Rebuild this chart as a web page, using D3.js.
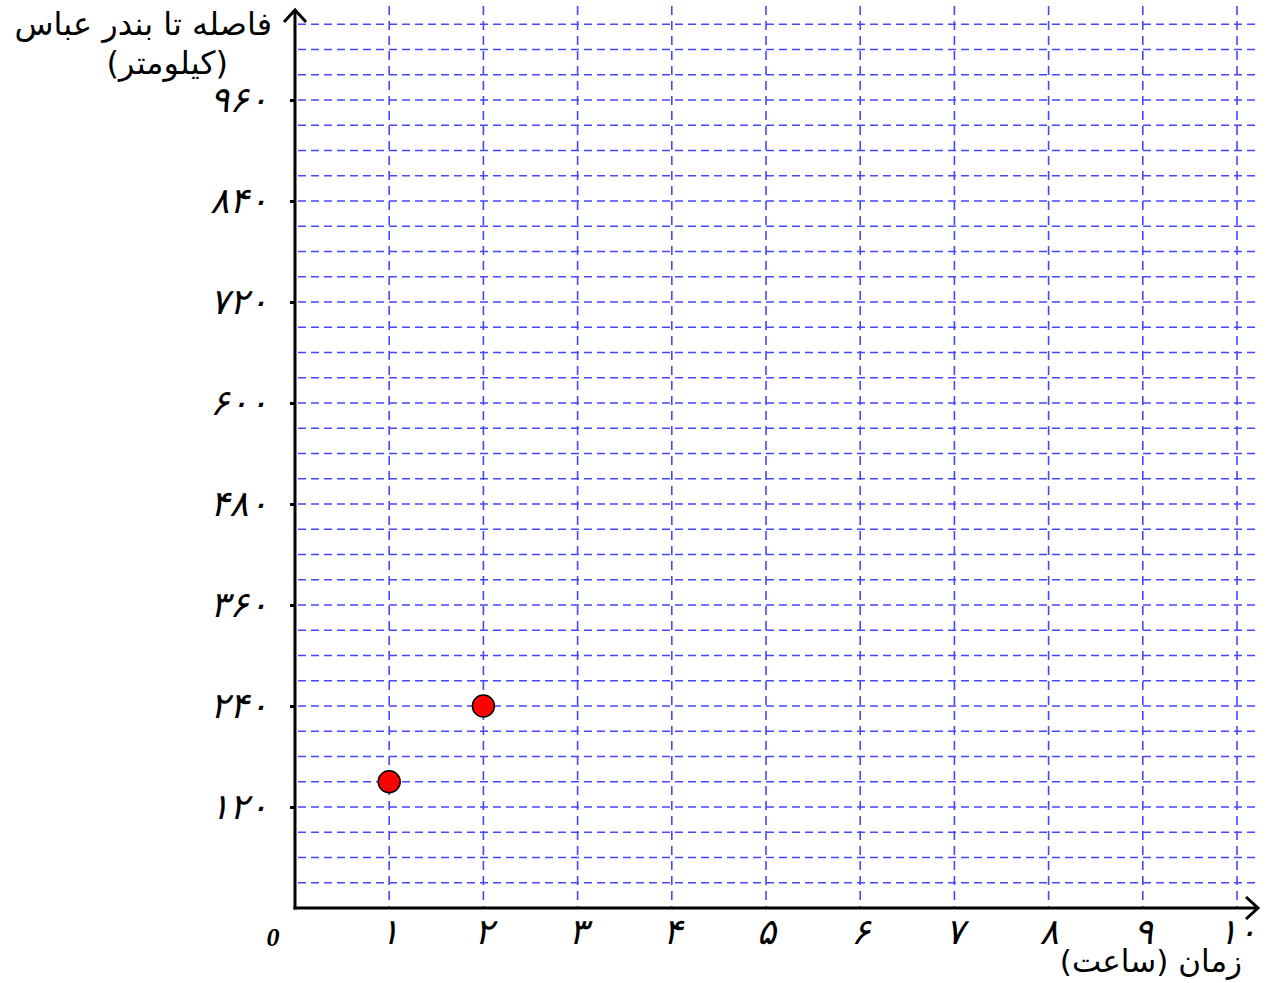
<!DOCTYPE html>
<html>
<head>
<meta charset="utf-8">
<script src="https://cdn.jsdelivr.net/npm/d3@7"></script>
<style>
  body { margin: 0; background: #fff; }
  svg { display: block; }
</style>
</head>
<body>
<div class="canvas"></div>
<script>
// data
const hours = [1, 2];
const distances = [150, 240];
const xTicks = [1, 2, 3, 4, 5, 6, 7, 8, 9, 10];
const yTicks = [120, 240, 360, 480, 600, 720, 840, 960];
const yTitle = ["فاصله تا بندر عباس", "(کیلومتر)"];
const xTitle = "زمان (ساعت)";

const width = 1275, height = 983;
const fa = n => String(n).replace(/\d/g, d => "۰۱۲۳۴۵۶۷۸۹"[d]);

const svg = d3.select(".canvas").append("svg")
    .attr("width", width)
    .attr("height", height);

// scales
const x = d3.scaleLinear().domain([0, 10]).range([295, 1237]);
const y = d3.scaleLinear().domain([0, 960]).range([908, 100]);

const gridColor = "#4646ff";

// horizontal grid every 30 km
const hLines = d3.range(30, 1051, 30);
svg.append("g")
    .selectAll("line")
    .data(hLines)
    .enter().append("line")
    .attr("x1", x(0) + 3)
    .attr("x2", 1260)
    .attr("y1", d => y(d))
    .attr("y2", d => y(d))
    .attr("stroke", gridColor)
    .attr("stroke-width", 1.6)
    .attr("stroke-dasharray", "8,5");

// vertical grid every hour
svg.append("g")
    .selectAll("line")
    .data(xTicks)
    .enter().append("line")
    .attr("x1", d => x(d))
    .attr("x2", d => x(d))
    .attr("y1", 6)
    .attr("y2", y(0))
    .attr("stroke", gridColor)
    .attr("stroke-width", 1.6)
    .attr("stroke-dasharray", "9,6");

// axes lines with arrows
svg.append("line")
    .attr("x1", x(0)).attr("x2", x(0))
    .attr("y1", y(0) + 1.5).attr("y2", 10)
    .attr("stroke", "#000").attr("stroke-width", 3);
svg.append("line")
    .attr("x1", x(0) - 1.5).attr("x2", 1257)
    .attr("y1", y(0)).attr("y2", y(0))
    .attr("stroke", "#000").attr("stroke-width", 3);
svg.append("path")
    .attr("d", `M${x(0) - 11},${22} L${x(0)},${10} L${x(0) + 11},${22}`)
    .attr("fill", "none").attr("stroke", "#000").attr("stroke-width", 3);
svg.append("path")
    .attr("d", `M1246,${y(0) - 11} L1258,${y(0)} L1246,${y(0) + 11}`)
    .attr("fill", "none").attr("stroke", "#000").attr("stroke-width", 3);

// y axis ticks and labels
const yAxis = d3.axisLeft(y)
    .tickValues(yTicks)
    .tickSize(5)
    .tickPadding(22)
    .tickFormat(fa);
const yg = svg.append("g")
    .attr("transform", `translate(${x(0)},0)`)
    .call(yAxis);
yg.select(".domain").remove();
yg.selectAll(".tick line").attr("stroke", "#000").attr("stroke-width", 3);
yg.selectAll(".tick text")
    .attr("font-family", "DejaVu Sans")
    .attr("font-size", 36)
    .attr("font-style", "italic")
    .attr("letter-spacing", 5)
    .attr("fill", "#000");

// x axis labels
const xAxis = d3.axisBottom(x)
    .tickValues(xTicks)
    .tickSize(0)
    .tickPadding(10)
    .tickFormat(fa);
const xg = svg.append("g")
    .attr("transform", `translate(0,${y(0)})`)
    .call(xAxis);
xg.select(".domain").remove();
xg.selectAll(".tick text")
    .attr("font-family", "DejaVu Sans")
    .attr("font-size", 36)
    .attr("font-style", "italic")
    .attr("fill", "#000");

// origin
svg.append("text")
    .attr("x", 273)
    .attr("y", 946)
    .attr("text-anchor", "middle")
    .attr("font-family", "Liberation Serif")
    .attr("font-size", 26)
    .attr("font-weight", "bold")
    .attr("font-style", "italic")
    .text("0");

// axis titles
svg.append("text")
    .attr("x", 272)
    .attr("y", 35)
    .attr("text-anchor", "end")
    .attr("font-family", "DejaVu Sans")
    .attr("font-size", 32)
    .text(yTitle[0]);
svg.append("text")
    .attr("x", 228)
    .attr("y", 74)
    .attr("text-anchor", "end")
    .attr("font-family", "DejaVu Sans")
    .attr("font-size", 32)
    .text(yTitle[1]);
svg.append("text")
    .attr("x", 1242)
    .attr("y", 972)
    .attr("text-anchor", "end")
    .attr("font-family", "DejaVu Sans")
    .attr("font-size", 31)
    .text(xTitle);

// points
svg.append("g")
    .selectAll("circle")
    .data(hours)
    .enter().append("circle")
    .attr("cx", d => x(d))
    .attr("cy", (d, i) => y(distances[i]))
    .attr("r", 11)
    .attr("fill", "#ff0000")
    .attr("stroke", "#000")
    .attr("stroke-width", 1.5);
</script>
</body>
</html>
